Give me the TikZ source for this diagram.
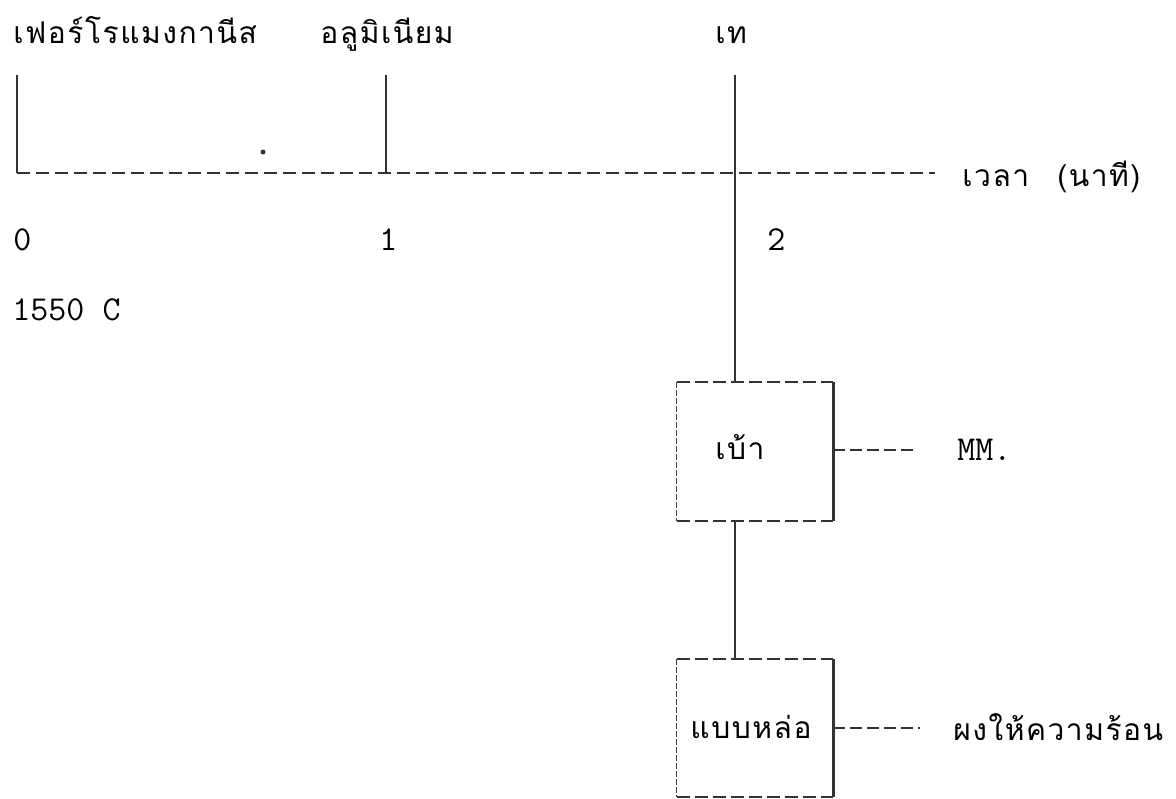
\documentclass[tikz,border=0pt]{standalone}
\usepackage{fontspec}
\newfontfamily\thai[Script=Thai,LetterSpace=5]{Loma}
\tikzset{
  thailbl/.style={inner sep=0pt, anchor=base west, font=\thai\fontsize{15}{18}\selectfont},
  numlbl/.style={inner sep=0pt, anchor=base west, font=\ttfamily\fontsize{17.5}{20}\selectfont},
  stem/.style={line width=0.9pt, draw=black!80},
  timeaxis/.style={line width=1pt, draw=black!80, dash pattern=on 6.5pt off 3pt},
  lead/.style={line width=1pt, draw=black!80, dash pattern=on 6pt off 2.5pt},
  stagebox/.style={draw=none, inner sep=0pt},
  boxdash/.style={line width=1pt, draw=black!80, dash pattern=on 6.5pt off 2.5pt},
  boxleft/.style={line width=0.6pt, draw=black!75, dash pattern=on 3pt off 1pt},
  boxright/.style={line width=1.3pt, draw=black!80},
}
\begin{document}
\begin{tikzpicture}[x=0.5pt,y=-0.5pt]
\useasboundingbox (0,0) rectangle (1176,798);

% additions along the time axis
\node[thailbl] (ferro) at (13,43) {เฟอร์โรแมงกานีส};
\node[thailbl] (alu)   at (320,43) {อลูมิเนียม};
\node[thailbl] (pour)  at (715,43) {เท};

\coordinate (t0) at (17,75);
\coordinate (t1) at (386,75);
\coordinate (t2) at (735,75);
\coordinate (a0) at (17,173);
\coordinate (a1) at (386,173);
\coordinate (aend) at (935,173);

\draw[stem] (t0) -- (a0);
\draw[stem] (t1) -- (a1);
\draw[timeaxis] (a0) -- (aend);
\node[thailbl] (time) at (962,186) {เวลา\hspace{14pt}(นาที)};

\fill[black!80] (263,152) circle (2.5);

% minutes and temperature
\node[numlbl] (n0) at (13,250) {0};
\node[numlbl] (n1) at (379,250) {1};
\node[numlbl] (n2) at (767,250) {2};
\node[numlbl] (temp) at (12,320) {1550 C};

% ladle and mould
\node[stagebox, minimum width=78pt, minimum height=69.5pt] (ladle) at (755,451.5) {};
\node[stagebox, minimum width=78pt, minimum height=69pt] (mold) at (755,728) {};

\foreach \b in {ladle,mold}{
  \draw[boxdash] (\b.north west) -- (\b.north east);
  \draw[boxdash] (\b.south west) -- (\b.south east);
  \draw[boxleft] (\b.north west) -- (\b.south west);
  \draw[boxright] (\b.north east) -- (\b.south east);
}

\node[thailbl] (ladletxt) at (715,459) {เบ้า};
\node[thailbl] (moldtxt)  at (690,738) {แบบหล่อ};

\draw[stem] (t2) -- (t2 |- ladle.north);
\draw[stem] (t2 |- ladle.south) -- (t2 |- mold.north);

% side notes
\coordinate (mmend) at (917,450);
\coordinate (powend) at (920,728);
\draw[lead] (ladle.east |- mmend) -- (mmend);
\draw[lead] (mold.east |- powend) -- (powend);
\node[numlbl] (mm) at (957,460) {MM.};
\node[thailbl] (powder) at (953,740) {ผงให้ความร้อน};
\end{tikzpicture}
\end{document}
